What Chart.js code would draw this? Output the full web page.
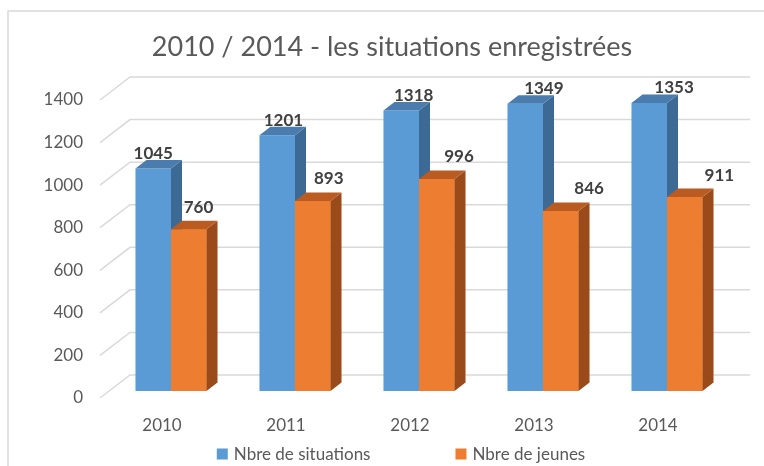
<!DOCTYPE html>
<html>
<head>
<meta charset="utf-8">
<script src="https://cdn.jsdelivr.net/npm/chart.js@4/dist/chart.umd.min.js"></script>
<style>
  body { margin: 0; background: #fff; }
</style>
</head>
<body>
<canvas id="chart" width="764" height="466"></canvas>
<script>
const years = ['2010', '2011', '2012', '2013', '2014'];
const situations = [1045, 1201, 1318, 1349, 1353];
const jeunes = [760, 893, 996, 846, 911];
const yTicks = [0, 200, 400, 600, 800, 1000, 1200, 1400];

const titleText = '2010 / 2014 - les situations enregistrées';
const seriesNames = ['Nbre de situations', 'Nbre de jeunes'];

// couleurs facon Excel 3D (face, cote, dessus)
const faces = [
    { front: '#5B9BD5', side: '#3C6A94', top: '#4A7CAE' },
    { front: '#ED7D31', side: '#9B4B1A', top: '#BA5B21' }
];

const depth = { dx: 11, dy: -8.5 };      // profondeur des barres
const wall = { front: 7, back: -16, x0: 100, x1: 130, x2: 750 }; // grille 3D
const grey = '#595959';
const fontFamily = 'Lato, "Open Sans", sans-serif';

// cadre gris autour du graphique
const framePlugin = {
    id: 'frame',
    beforeDraw(chart) {
        const ctx = chart.ctx;
        ctx.save();
        ctx.strokeStyle = '#d9d9d9';
        ctx.lineWidth = 1.5;
        ctx.beginPath();
        ctx.moveTo(8, chart.height + 5);
        ctx.lineTo(8, 11);
        ctx.lineTo(chart.width + 5, 11);
        ctx.stroke();
        ctx.restore();
    }
};

// lignes de grille en perspective (sol + mur du fond)
const gridPlugin = {
    id: 'grid3d',
    beforeDatasetsDraw(chart) {
        const ctx = chart.ctx;
        const yScale = chart.scales.y;
        ctx.save();
        ctx.strokeStyle = '#d9d9d9';
        ctx.lineWidth = 1.5;
        yTicks.forEach(v => {
            const py = yScale.getPixelForValue(v);
            ctx.beginPath();
            ctx.moveTo(wall.x0, py + wall.front);
            ctx.lineTo(wall.x1, py + wall.back);
            ctx.lineTo(wall.x2, py + wall.back);
            ctx.stroke();
        });
        ctx.restore();
    }
};

// cotes et dessus des barres : serie bleue puis serie orange
// (les faces orange sont redessinees pour cacher le cote des bleues)
const barsPlugin = {
    id: 'bars3d',
    afterDatasetsDraw(chart) {
        const ctx = chart.ctx;
        chart.data.datasets.forEach((ds, i) => {
            const col = faces[i];
            const meta = chart.getDatasetMeta(i);
            if (i > 0) meta.data.forEach(bar => bar.draw(ctx));
            ctx.save();
            meta.data.forEach(bar => {
                const p = bar.getProps(['x', 'y', 'base', 'width'], true);
                const left = p.x - p.width / 2;
                const right = p.x + p.width / 2;
                // cote droit
                ctx.fillStyle = col.side;
                ctx.beginPath();
                ctx.moveTo(right, p.y);
                ctx.lineTo(right + depth.dx, p.y + depth.dy);
                ctx.lineTo(right + depth.dx, p.base + depth.dy);
                ctx.lineTo(right, p.base);
                ctx.closePath();
                ctx.fill();
                // dessus
                ctx.fillStyle = col.top;
                ctx.beginPath();
                ctx.moveTo(left, p.y);
                ctx.lineTo(left + depth.dx, p.y + depth.dy);
                ctx.lineTo(right + depth.dx, p.y + depth.dy);
                ctx.lineTo(right, p.y);
                ctx.closePath();
                ctx.fill();
            });
            ctx.restore();
        });
    }
};

// etiquettes de valeurs au dessus des barres
const labelsPlugin = {
    id: 'valueLabels',
    afterDatasetsDraw(chart) {
        const ctx = chart.ctx;
        const area = chart.chartArea;
        ctx.save();
        ctx.font = 'bold 17px ' + fontFamily;
        ctx.fillStyle = '#404040';
        ctx.textAlign = 'center';
        ctx.textBaseline = 'middle';
        chart.data.datasets.forEach((ds, i) => {
            const meta = chart.getDatasetMeta(i);
            meta.data.forEach((bar, j) => {
                const p = bar.getProps(['x', 'y'], true);
                // petit decalage de perspective vers la droite
                const shift = 0.05 * (p.x - area.left - 44) + (i === 1 ? 8 : 0);
                const up = i === 1 ? 22 : 15;
                ctx.fillText(String(ds.data[j]), p.x + shift, p.y - up);
            });
        });
        ctx.restore();
    }
};

// legende en bas
const legendPlugin = {
    id: 'legendBas',
    afterDraw(chart) {
        const ctx = chart.ctx;
        ctx.save();
        ctx.font = '17px ' + fontFamily;
        ctx.textBaseline = 'middle';
        const box = 11, gap = 6, spacing = 85;
        const widths = chart.data.datasets.map(ds => ctx.measureText(ds.label).width);
        const total = widths.reduce((a, w) => a + box + gap + w, 0) + spacing * (widths.length - 1);
        let x = 401 - total / 2;
        const y = 454;
        chart.data.datasets.forEach((ds, i) => {
            ctx.fillStyle = ds.backgroundColor;
            ctx.fillRect(x, y - box / 2, box, box);
            ctx.fillStyle = grey;
            ctx.fillText(ds.label, x + box + gap, y + 1);
            x += box + gap + widths[i] + spacing;
        });
        ctx.restore();
    }
};

const data = {
    labels: years,
    datasets: [
        {
            label: seriesNames[0],
            data: situations,
            backgroundColor: faces[0].front,
            borderWidth: 0
        },
        {
            label: seriesNames[1],
            data: jeunes,
            backgroundColor: faces[1].front,
            borderWidth: 0
        }
    ]
};

const config = {
    type: 'bar',
    data: data,
    options: {
        responsive: false,
        animation: false,
        devicePixelRatio: 1,
        layout: { padding: { left: 40, right: 20, top: 0, bottom: 0 } },
        datasets: {
            bar: { categoryPercentage: 0.573, barPercentage: 1 }
        },
        plugins: {
            legend: { display: false },
            tooltip: { enabled: false },
            title: {
                display: true,
                text: titleText,
                color: grey,
                font: { family: fontFamily, size: 27, weight: 'normal' },
                padding: { top: 31, bottom: 29.6 }
            }
        },
        scales: {
            x: {
                grid: { display: false, drawTicks: false },
                border: { display: false },
                ticks: {
                    color: grey,
                    font: { family: fontFamily, size: 17 },
                    padding: 24,
                    labelOffset: -9
                },
                afterFit(scale) { scale.height = 75; }
            },
            y: {
                min: 0,
                max: 1400,
                grid: { display: false, drawTicks: false },
                border: { display: false },
                ticks: {
                    stepSize: 200,
                    color: grey,
                    font: { family: fontFamily, size: 17 },
                    padding: 26,
                    labelOffset: 7,
                    callback: v => String(v)
                },
                afterFit(scale) { scale.width = 69; }
            },
            // marge vide a droite (le mur du fond depasse les barres)
            right: {
                position: 'right',
                grid: { display: false, drawTicks: false },
                border: { display: false },
                ticks: { display: false },
                afterFit(scale) { scale.width = 15; }
            }
        }
    },
    plugins: [framePlugin, gridPlugin, barsPlugin, labelsPlugin, legendPlugin]
};

const chart = new Chart(document.getElementById('chart'), config);
</script>
</body>
</html>
